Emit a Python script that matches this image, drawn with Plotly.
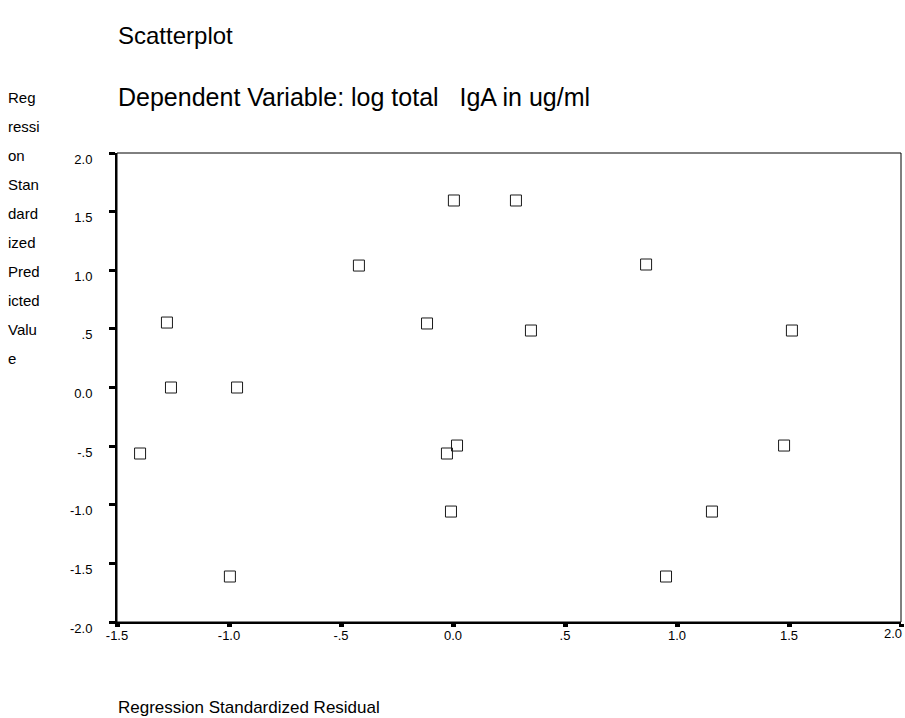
import plotly.graph_objects as go

# Data
resid = [-1.277, -1.259, -0.964, -1.397, -0.996, -0.420, -0.116, 0.004, 0.281,
         0.348, -0.027, 0.018, -0.009, 0.862, 1.513, 1.478, 1.156, 0.951]
pred = [0.554, 0.0, 0.0, -0.563, -1.612, 1.040, 0.546, 1.595, 1.595,
        0.486, -0.563, -0.495, -1.058, 1.049, 0.486, -0.495, -1.058, -1.612]

x_tickvals = [-1.5, -1.0, -0.5, 0.0, 0.5, 1.0, 1.5, 2.0]
x_ticktext = ["-1.5", "-1.0", "-.5", "0.0", ".5", "1.0", "1.5", "2.0"]
y_tickvals = [2.0, 1.5, 1.0, 0.5, 0.0, -0.5, -1.0, -1.5, -2.0]
y_ticktext = ["2.0", "1.5", "1.0", ".5", "0.0", "-.5", "-1.0", "-1.5", "-2.0"]

title_text = "Scatterplot"
subtitle_text = "Dependent Variable: log total &nbsp; IgA in ug/ml"
x_title = "Regression Standardized Residual"
y_title_lines = ["Reg", "ressi", "on", "Stan", "dard", "ized", "Pred", "icted", "Valu", "e"]

W, H = 905, 718
PL, PR, PT, PB = 117, 901, 153, 622   # plot area in page pixels
L, T, R, B = PL, PT, W - PR, H - PB

def px_x(px):
    return (px - PL) / (PR - PL)

def px_y(py):
    return (PB - py) / (PB - PT)

FONT = "Liberation Sans, Arial, sans-serif"

fig = go.Figure()
fig.add_trace(go.Scatter(
    x=resid, y=pred, mode="markers",
    marker=dict(symbol="square-open", size=11, color="#1a1a1a",
                line=dict(width=1, color="#1a1a1a")),
    showlegend=False, hoverinfo="x+y",
))

fig.update_layout(
    width=W, height=H, autosize=False,
    margin=dict(l=L, r=R, t=T, b=B, pad=0, autoexpand=False),
    paper_bgcolor="white", plot_bgcolor="white",
    font=dict(family=FONT, color="black"),
    showlegend=False,
)

# the last x label sits at the right edge; it is drawn right-aligned below
x_ticktext_axis = x_ticktext[:-1] + [""]

fig.update_xaxes(
    range=[-1.5, 2.0], tickmode="array", tickvals=x_tickvals, ticktext=x_ticktext_axis,
    showgrid=False, zeroline=False, showline=True, linewidth=2, linecolor="black",
    ticks="outside", ticklen=3, tickwidth=5, tickcolor="black",
    tickfont=dict(family=FONT, size=13, color="black"),
    ticklabelstandoff=-3, ticklabeloverflow="allow", automargin=False,
)
fig.update_yaxes(
    range=[-2.0, 2.0], tickmode="array", tickvals=y_tickvals, ticktext=y_ticktext,
    showgrid=False, zeroline=False, showline=True, linewidth=2, linecolor="black",
    ticks="outside", ticklen=6, tickwidth=3, tickcolor="black",
    tickfont=dict(family=FONT, size=13, color="black"),
    ticklabelshift=6, ticklabelstandoff=14, ticklabeloverflow="allow", automargin=False,
)

fig.add_annotation(text=x_ticktext[-1], x=x_tickvals[-1], xref="x",
                   y=px_y(633), yref="paper", xanchor="right", yanchor="middle",
                   xshift=3, showarrow=False,
                   font=dict(family=FONT, size=13, color="black"))

# thin frame (top and right)
fig.add_shape(type="rect", xref="paper", yref="paper", x0=0, y0=0, x1=1, y1=1,
              line=dict(color="black", width=1), fillcolor="rgba(0,0,0,0)", layer="above")

annos = [
    dict(text=title_text, x=px_x(116), y=px_y(35), size=24),
    dict(text=subtitle_text, x=px_x(116), y=px_y(97), size=25),
    dict(text=x_title, x=px_x(116), y=px_y(707), size=17),
]
for i, line in enumerate(y_title_lines):
    annos.append(dict(text=line, x=px_x(6), y=px_y(97 + i * 29), size=15))

for a in annos:
    fig.add_annotation(text=a["text"], x=a["x"], y=a["y"], xref="paper", yref="paper",
                       xanchor="left", yanchor="middle", showarrow=False,
                       font=dict(family=FONT, size=a["size"], color="black"))

fig.write_html("out.html",
               config={"displayModeBar": False, "responsive": False},
               post_script="document.body.style.margin='0';document.body.style.overflow='hidden';")
